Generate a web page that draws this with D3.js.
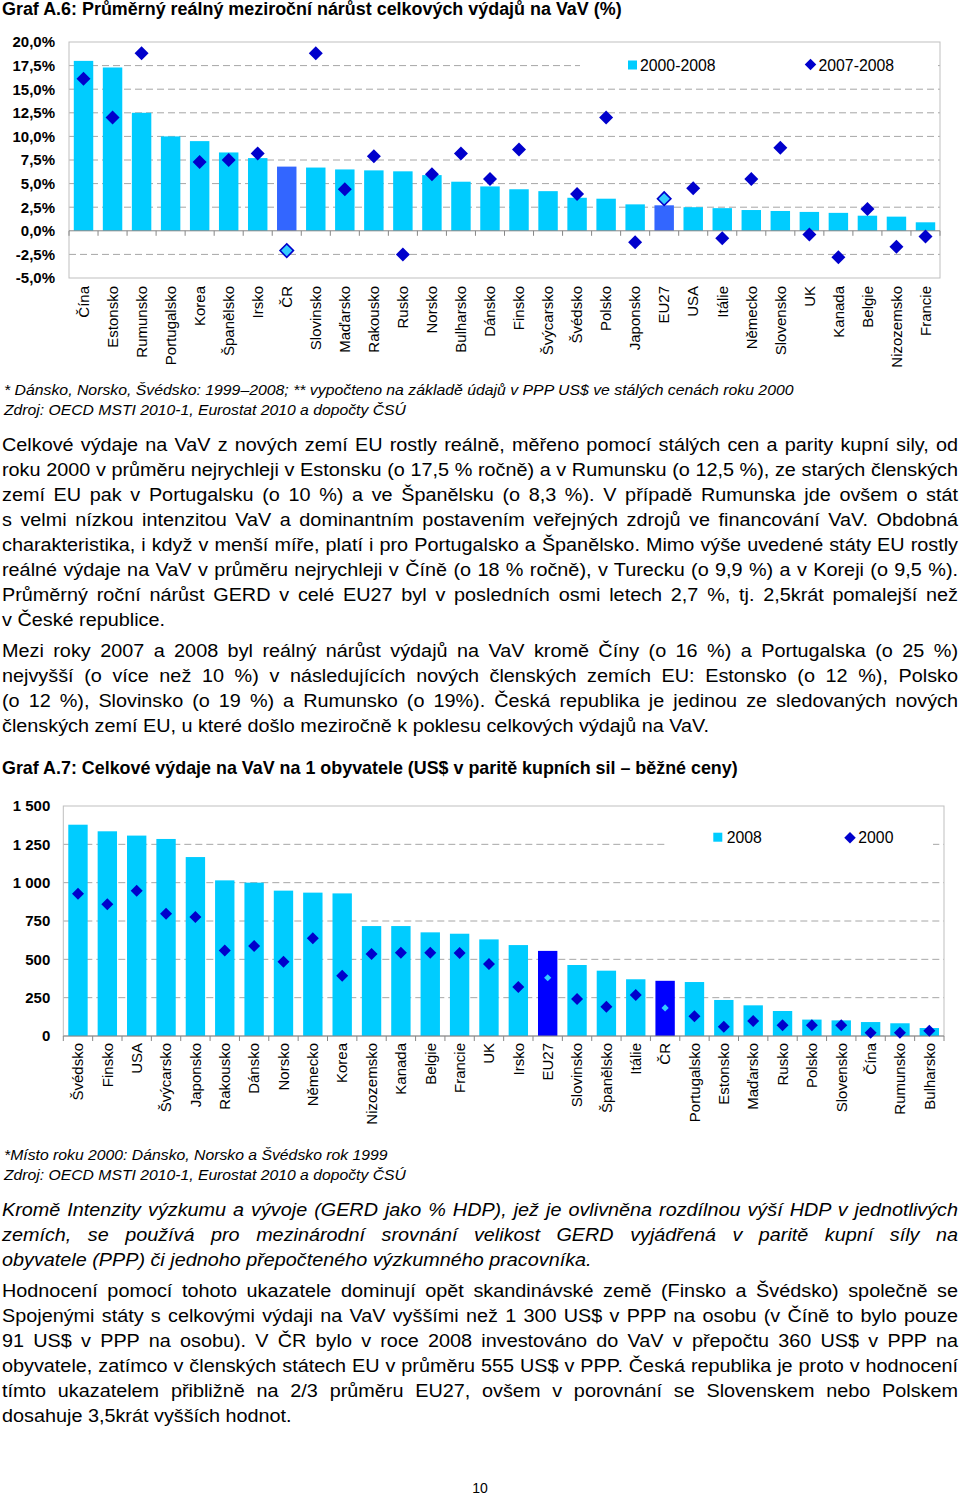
<!DOCTYPE html>
<html><head><meta charset="utf-8">
<script src="https://cdn.jsdelivr.net/npm/d3@7"></script>
<style>body{margin:0;background:#fff}svg{display:block}</style>
</head><body>
<script>
// ---------- DATA ----------
const cats1 = ["Čína","Estonsko","Rumunsko","Portugalsko","Korea","Španělsko","Irsko","ČR","Slovinsko","Maďarsko","Rakousko","Rusko","Norsko","Bulharsko","Dánsko","Finsko","Švýcarsko","Švédsko","Polsko","Japonsko","EU27","USA","Itálie","Německo","Slovensko","UK","Kanada","Belgie","Nizozemsko","Francie"];
const growth2000_2008 = [18.0,17.3,12.5,10.0,9.5,8.3,7.7,6.8,6.7,6.5,6.4,6.3,5.9,5.2,4.7,4.4,4.2,3.5,3.4,2.8,2.7,2.5,2.4,2.2,2.1,2.0,1.9,1.6,1.5,0.9];
const growth2007_2008 = [16.1,12.0,18.8,25.0,7.3,7.5,8.2,-2.1,18.8,4.4,7.9,-2.5,6.0,8.2,5.5,8.6,null,3.9,12.0,-1.2,3.4,4.5,-0.8,5.5,8.8,-0.4,-2.8,2.3,-1.7,-0.6];
const ticks1 = [-5,-2.5,0,2.5,5,7.5,10,12.5,15,17.5,20];
const legend1 = ["2000-2008","2007-2008"];

const cats2 = ["Švédsko","Finsko","USA","Švýcarsko","Japonsko","Rakousko","Dánsko","Norsko","Německo","Korea","Nizozemsko","Kanada","Belgie","Francie","UK","Irsko","EU27","Slovinsko","Španělsko","Itálie","ČR","Portugalsko","Estonsko","Maďarsko","Rusko","Polsko","Slovensko","Čína","Rumunsko","Bulharsko"];
const perCapita2008 = [1378,1335,1307,1285,1167,1015,1000,948,935,930,717,717,676,667,630,593,555,463,426,370,360,352,235,200,163,107,102,91,83,52];
const perCapita2000 = [928,859,948,798,776,557,587,485,637,393,535,543,543,541,470,320,380,241,191,267,183,128,61,98,70,70,70,22,22,35];
const ticks2 = [0,250,500,750,1000,1250,1500];
const legend2 = ["2008","2000"];
const highlight = ["ČR","EU27"];

const title1 = "Graf A.6: Průměrný reálný meziroční nárůst celkových výdajů na VaV (%)";
const title2 = "Graf A.7: Celkové výdaje na VaV na 1 obyvatele (US$ v paritě kupních sil – běžné ceny)";
const notes1 = ["* Dánsko, Norsko, Švédsko: 1999–2008; ** vypočteno na základě údajů v PPP US$ ve stálých cenách roku 2000","Zdroj: OECD MSTI 2010-1, Eurostat 2010 a dopočty ČSÚ"];
const notes2 = ["*Místo roku 2000: Dánsko, Norsko a Švédsko rok 1999","Zdroj: OECD MSTI 2010-1, Eurostat 2010 a dopočty ČSÚ"];
const para1 = [
"Celkové výdaje na VaV z nových zemí EU rostly reálně, měřeno pomocí stálých cen a parity kupní sily, od",
"roku 2000 v průměru nejrychleji v Estonsku (o 17,5 % ročně) a v Rumunsku (o 12,5 %), ze starých členských",
"zemí EU pak v Portugalsku (o 10 %) a ve Španělsku (o 8,3 %). V případě Rumunska jde ovšem o stát",
"s velmi nízkou intenzitou VaV a dominantním postavením veřejných zdrojů ve financování VaV. Obdobná",
"charakteristika, i když v menší míře, platí i pro Portugalsko a Španělsko. Mimo výše uvedené státy EU rostly",
"reálné výdaje na VaV v průměru nejrychleji v Číně (o 18 % ročně), v Turecku (o 9,9 %) a v Koreji (o 9,5 %).",
"Průměrný roční nárůst GERD v celé EU27 byl v posledních osmi letech 2,7 %, tj. 2,5krát pomalejší než",
"v České republice."];
const para2 = [
"Mezi roky 2007 a 2008 byl reálný nárůst výdajů na VaV kromě Číny (o 16 %) a Portugalska (o 25 %)",
"nejvyšší (o více než 10 %) v následujících nových členských zemích EU: Estonsko (o 12 %), Polsko",
"(o 12 %), Slovinsko (o 19 %) a Rumunsko (o 19%). Česká republika je jedinou ze sledovaných nových",
"členských zemí EU, u které došlo meziročně k poklesu celkových výdajů na VaV."];
const para3 = [
"Kromě Intenzity výzkumu a vývoje (GERD jako % HDP), jež je ovlivněna rozdílnou výší HDP v jednotlivých",
"zemích, se používá pro mezinárodní srovnání velikost GERD vyjádřená v paritě kupní síly na",
"obyvatele (PPP) či jednoho přepočteného výzkumného pracovníka."];
const para4 = [
"Hodnocení pomocí tohoto ukazatele dominují opět skandinávské země (Finsko a Švédsko) společně se",
"Spojenými státy s celkovými výdaji na VaV vyššími než 1 300 US$ v PPP na osobu (v Číně to bylo pouze",
"91 US$ v PPP na osobu). V ČR bylo v roce 2008 investováno do VaV v přepočtu 360 US$ v PPP na",
"obyvatele, zatímco v členských státech EU v průměru 555 US$ v PPP. Česká republika je proto v hodnocení",
"tímto ukazatelem přibližně na 2/3 průměru EU27, ovšem v porovnání se Slovenskem nebo Polskem",
"dosahuje 3,5krát vyšších hodnot."];
const pageNo = "10";

// ---------- SETUP ----------
const svg = d3.select("body").append("svg").attr("width",960).attr("height",1497);
svg.append("rect").attr("width",960).attr("height",1497).attr("fill","#fff");
const chartFont = "'Liberation Sans',Arial,Helvetica,sans-serif";
const bodyFont = "'Liberation Sans Narrow','Arial Narrow','Liberation Sans',Arial,sans-serif";

function measure(str, size, weight, style){
  const t = svg.append("text").attr("font-family",bodyFont).attr("font-size",size)
    .attr("font-weight",weight||"normal").attr("font-style",style||"normal").text(str);
  const w = t.node().getComputedTextLength(); t.remove(); return w;
}
function fitText(str, x, y, size, target, weight, style){
  const w = measure(str,size,weight,style);
  const c = target / w;
  svg.append("text").attr("transform",`translate(${x},${y}) scale(${c},1)`)
    .attr("font-family",bodyFont).attr("font-size",size)
    .attr("font-weight",weight||"normal").attr("font-style",style||"normal")
    .attr("fill","#000").text(str);
}
function paragraph(lines, y0, c, size, style){
  const lh = 25, x0 = 2, full = 956;
  lines.forEach((s,i)=>{
    const t = svg.append("text").attr("transform",`translate(${x0},${y0+i*lh}) scale(${c},1)`)
      .attr("font-family",bodyFont).attr("font-size",size).attr("font-style",style||"normal")
      .attr("fill","#000").text(s);
    if (i < lines.length-1){
      const w = t.node().getComputedTextLength();
      const n = (s.match(/ /g)||[]).length;
      t.style("word-spacing", ((full - c*w)/(c*n)) + "px");
    }
  });
}

const diamond = size => d3.symbol(d3.symbolSquare, size)();

function drawChart(o){
  const g = svg.append("g");
  const x = d3.scaleBand().domain(o.cats).range([o.left,o.right]).paddingInner(o.pad).paddingOuter(o.pad/2);
  const y = d3.scaleLinear().domain(o.domain).range([o.bottom,o.top]);
  g.selectAll(".grid").data(o.ticks.filter(v=>v!==o.domain[0]&&v!==o.domain[1]&&v!==0))
    .join("line").attr("x1",o.left).attr("x2",o.right).attr("y1",d=>y(d)).attr("y2",d=>y(d))
    .attr("stroke","#A6A6A6").attr("stroke-width",1).attr("stroke-dasharray","7,4");
  g.append("rect").attr("x",o.left).attr("y",o.top).attr("width",o.right-o.left).attr("height",o.bottom-o.top)
    .attr("fill","none").attr("stroke","#BFBFBF").attr("stroke-width",1);
  g.append("rect").attr("x",o.legBox[0]).attr("y",o.legBox[1]).attr("width",o.legBox[2]).attr("height",o.legBox[3]).attr("fill","#fff");
  g.selectAll(".bar").data(o.cats).join("rect")
    .attr("x",d=>x(d)).attr("width",x.bandwidth())
    .attr("y",(d,i)=>y(Math.max(0,o.bars[i]))).attr("height",(d,i)=>Math.abs(y(o.bars[i])-y(0)))
    .attr("fill",d=>highlight.includes(d)?o.hiBar:"#00CCFF");
  const y0 = y(0);
  g.append("line").attr("x1",o.left).attr("x2",o.right).attr("y1",y0).attr("y2",y0).attr("stroke","#868686");
  g.selectAll(".tk").data(d3.range(o.cats.length+1)).join("line")
    .attr("x1",i=>o.left+i*x.step()).attr("x2",i=>o.left+i*x.step())
    .attr("y1",y0).attr("y2",y0+5).attr("stroke","#868686");
  const pts = o.cats.map((c,i)=>({c,v:o.points[i]})).filter(d=>d.v!=null && d.v>=o.domain[0] && d.v<=o.domain[1]);
  g.selectAll(".pt").data(pts).join("path")
    .attr("transform",d=>`translate(${x(d.c)+x.bandwidth()/2},${y(d.v)}) rotate(45)`)
    .attr("d",d=>highlight.includes(d.c)?diamond(o.hiSize):diamond(o.ptSize))
    .attr("fill",d=>highlight.includes(d.c)?"#33CCFF":"#0000CC")
    .attr("stroke",d=>highlight.includes(d.c)&&o.hiStroke?"#0000CC":"none")
    .attr("stroke-width",1.6);
  const ax = g.append("g").attr("transform",`translate(${o.left},0)`)
    .call(d3.axisLeft(y).tickValues(o.ticks).tickFormat(o.fmt).tickSize(0).tickPadding(o.tickPad));
  ax.select(".domain").remove();
  ax.selectAll("text").attr("font-family",chartFont).attr("font-size",15).attr("font-weight","bold").attr("fill","#000");
  g.selectAll(".xl").data(o.cats).join("text")
    .attr("transform",d=>`translate(${x(d)+x.bandwidth()/2},${o.labelTop}) rotate(-90)`)
    .attr("text-anchor","end").attr("dy","0.35em")
    .attr("font-family",chartFont).attr("font-size",15).attr("fill","#000").text(d=>d);
  const L = o.leg;
  g.append("rect").attr("x",L.sq[0]).attr("y",L.sq[1]).attr("width",9).attr("height",9).attr("fill","#00CCFF");
  g.append("text").attr("x",L.t1[0]).attr("y",L.t1[1]).attr("font-family",chartFont).attr("font-size",15.8).text(o.legText[0]);
  g.append("path").attr("transform",`translate(${L.dm[0]},${L.dm[1]}) rotate(45)`).attr("d",diamond(L.dmSize)).attr("fill","#0000CC");
  g.append("text").attr("x",L.t2[0]).attr("y",L.t2[1]).attr("font-family",chartFont).attr("font-size",15.8).text(o.legText[1]);
}

// ---------- TITLES / TEXT ----------
fitText(title1, 2, 15, 17.5, 620, "bold");

drawChart({cats:cats1,bars:growth2000_2008,points:growth2007_2008,ticks:ticks1,domain:[-5,20],
  left:69,right:940,top:42,bottom:278,pad:0.33,hiBar:"#3366FF",hiSize:90,ptSize:98,hiStroke:true,
  fmt:v=>d3.format(".1f")(v).replace(".",",").replace("−","-")+"%",tickPad:14,labelTop:286,
  legBox:[580,52,358,28],
  leg:{sq:[628,60.5],t1:[640,70.5],dm:[810.5,64.5],dmSize:66,t2:[818.5,70.5]},legText:legend1});

fitText(notes1[0], 4, 395, 15, 790, "normal", "italic");
fitText(notes1[1], 4, 415, 15, 402, "normal", "italic");

const lastTargets = [161, 710, 289];
const lastNat = [para1[para1.length-1], para2[para2.length-1], para4[para4.length-1]].map(s=>measure(s,17.5));
const cReg = d3.sum(lastTargets)/d3.sum(lastNat);
const cIt = 590 / measure(para3[para3.length-1],17.5,"normal","italic");

paragraph(para1, 451, cReg, 17.5);
paragraph(para2, 657, cReg, 17.5);
fitText(title2, 2, 774, 17.5, 736, "bold");

drawChart({cats:cats2,bars:perCapita2008,points:perCapita2000,ticks:ticks2,domain:[0,1500],
  left:63.3,right:944,top:806,bottom:1036,pad:0.34,hiBar:"#0000FF",hiSize:26,ptSize:72,hiStroke:false,
  fmt:v=>v>=1000?Math.floor(v/1000)+" "+String(v%1000).padStart(3,"0"):String(v),tickPad:13,labelTop:1043,
  legBox:[665,830,268,24],
  leg:{sq:[713.3,832.7],t1:[726.7,843],dm:[850,837.7],dmSize:66,t2:[858.3,843]},legText:legend2});

fitText(notes2[0], 4, 1160, 15, 384, "normal", "italic");
fitText(notes2[1], 4, 1180, 15, 402, "normal", "italic");

paragraph(para3, 1216, cIt, 17.5, "italic");
paragraph(para4, 1297, cReg, 17.5);

svg.append("text").attr("x",480).attr("y",1493).attr("text-anchor","middle")
  .attr("font-family",chartFont).attr("font-size",14).text(pageNo);
</script>
</body></html>
